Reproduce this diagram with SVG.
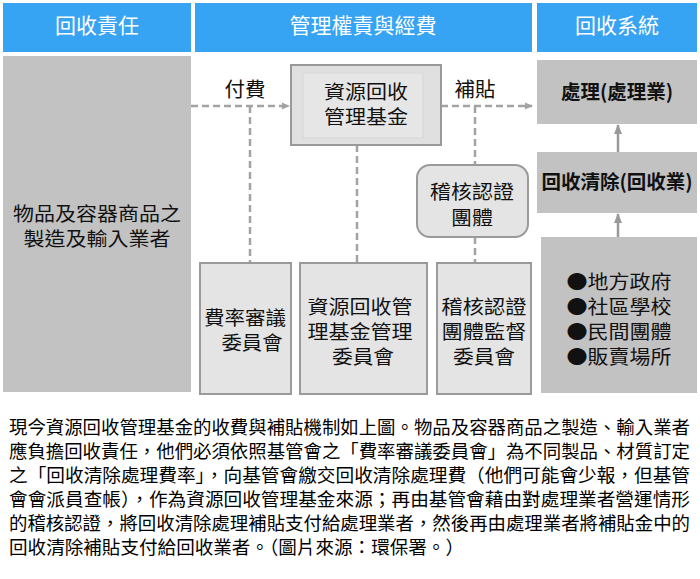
<svg xmlns="http://www.w3.org/2000/svg" width="700" height="579" viewBox="0 0 700 579">
<style>
text{font-family:"Noto Sans CJK TC","Noto Sans CJK SC",sans-serif;}
.hd{fill:#36a3f3;}
.ht{fill:#fff;font-size:21px;text-anchor:middle;}
.dk{fill:#c2c2c2;}
.lt{fill:#e4e4e4;stroke:#9a9a9a;stroke-width:2;}
.t{fill:#111;font-size:19px;text-anchor:middle;}
.t1{fill:#111;font-size:20.5px;text-anchor:middle;}
.tb{fill:#111;font-size:19.5px;text-anchor:middle;font-weight:bold;}
.dash{stroke:#a3a3a3;stroke-width:2.5;stroke-dasharray:7 4;fill:none;}
.solid{stroke:#999;stroke-width:2.5;fill:none;}
.p{fill:#000;font-size:18.4px;}
</style>
<defs>
<marker id="ah" markerWidth="8" markerHeight="8" refX="7" refY="4" orient="auto" markerUnits="userSpaceOnUse">
<path d="M0,0.5 L8,4 L0,7.5 Z" fill="#a3a3a3"/>
</marker>
<marker id="ah2" markerWidth="10" markerHeight="10" refX="9" refY="5" orient="auto" markerUnits="userSpaceOnUse">
<path d="M0,1 L10,5 L0,9 Z" fill="#999"/>
</marker>
</defs>
<rect width="700" height="579" fill="#fff"/>
<g id="headers">
<rect class="hd" x="3" y="3" width="188" height="49"/>
<text class="ht" x="97" y="33">回收責任</text>
<rect class="hd" x="195" y="3" width="337" height="49"/>
<text class="ht" x="363" y="33">管理權責與經費</text>
<rect class="hd" x="537" y="3" width="160" height="49"/>
<text class="ht" x="617" y="33">回收系統</text>
</g>
<g id="connectors">
<line class="dash" x1="191" y1="106" x2="289" y2="106" marker-end="url(#ah)"/>
<line class="dash" x1="250" y1="106" x2="250" y2="262"/>
<line class="dash" x1="357" y1="145" x2="357" y2="262"/>
<line class="dash" x1="441" y1="106" x2="532" y2="106" marker-end="url(#ah)"/>
<line class="dash" x1="475" y1="106" x2="475" y2="165"/>
<line class="dash" x1="475" y1="237" x2="475" y2="262"/>
<line class="solid" x1="618" y1="152" x2="618" y2="125" marker-end="url(#ah2)"/>
<line class="solid" x1="618" y1="237" x2="618" y2="214" marker-end="url(#ah2)"/>
<text class="t1" x="245" y="97">付費</text>
<text class="t1" x="475" y="97">補貼</text>
</g>
<g id="producers">
<rect class="dk" x="3" y="56" width="188" height="336" fill="#c0c0c0"/>
<text class="t" x="97" y="221" textLength="168" lengthAdjust="spacingAndGlyphs">物品及容器商品之</text>
<text class="t" x="97" y="246" textLength="147" lengthAdjust="spacingAndGlyphs">製造及輸入業者</text>
</g>
<g id="fund">
<rect x="291" y="65" width="150" height="80" fill="#e0e0e0" stroke="#999" stroke-width="2"/>
<rect x="303" y="73" width="120" height="65" fill="#e6e6e6" stroke="#d6d6d6" stroke-width="1"/>
<text class="t" x="366" y="99" textLength="84" lengthAdjust="spacingAndGlyphs">資源回收</text>
<text class="t" x="366" y="124" textLength="84" lengthAdjust="spacingAndGlyphs">管理基金</text>
</g>
<g id="audit">
<rect x="417" y="165" width="111" height="72" rx="13" fill="#e4e4e4" stroke="#9a9a9a" stroke-width="2"/>
<text class="t" x="472" y="199" textLength="84" lengthAdjust="spacingAndGlyphs">稽核認證</text>
<text class="t" x="472" y="225" textLength="42" lengthAdjust="spacingAndGlyphs">團體</text>
</g>
<g id="rate-committee">
<rect class="lt" x="200" y="263" width="91" height="131"/>
<text class="t" x="245" y="325" textLength="82" lengthAdjust="spacingAndGlyphs">費率審議</text>
<text class="t" x="252" y="350" textLength="61" lengthAdjust="spacingAndGlyphs">委員會</text>
</g>
<g id="fund-committee">
<rect class="lt" x="300" y="263" width="127" height="131"/>
<text class="t" x="360" y="314" textLength="105" lengthAdjust="spacingAndGlyphs">資源回收管</text>
<text class="t" x="360" y="339" textLength="105" lengthAdjust="spacingAndGlyphs">理基金管理</text>
<text class="t" x="363" y="364" textLength="62" lengthAdjust="spacingAndGlyphs">委員會</text>
</g>
<g id="audit-committee">
<rect class="lt" x="437" y="263" width="94" height="131"/>
<text class="t" x="484" y="314" textLength="85" lengthAdjust="spacingAndGlyphs">稽核認證</text>
<text class="t" x="484" y="339" textLength="85" lengthAdjust="spacingAndGlyphs">團體監督</text>
<text class="t" x="484" y="364" textLength="62" lengthAdjust="spacingAndGlyphs">委員會</text>
</g>
<g id="processing">
<rect class="dk" x="537" y="60" width="160" height="64"/>
<text class="tb" x="617" y="99">處理(處理業)</text>
</g>
<g id="collection">
<rect class="dk" x="537" y="152" width="160" height="61"/>
<text class="tb" x="617" y="189">回收清除(回收業)</text>
</g>
<g id="sources">
<rect class="dk" x="541" y="237" width="156" height="156"/>
<text class="t" x="619" y="289" textLength="105" lengthAdjust="spacingAndGlyphs">●地方政府</text>
<text class="t" x="619" y="314" textLength="105" lengthAdjust="spacingAndGlyphs">●社區學校</text>
<text class="t" x="619" y="339" textLength="105" lengthAdjust="spacingAndGlyphs">●民間團體</text>
<text class="t" x="619" y="364" textLength="105" lengthAdjust="spacingAndGlyphs">●販賣場所</text>
</g>
<g id="paragraph">
<text class="p" x="9" y="434" textLength="681" lengthAdjust="spacingAndGlyphs">現今資源回收管理基金的收費與補貼機制如上圖。物品及容器商品之製造、輸入業者</text>
<text class="p" x="9" y="458" textLength="681" lengthAdjust="spacingAndGlyphs">應負擔回收責任，他們必須依照基管會之「費率審議委員會」為不同製品、材質訂定</text>
<text class="p" x="9" y="482" textLength="681" lengthAdjust="spacingAndGlyphs">之「回收清除處理費率」，向基管會繳交回收清除處理費（他們可能會少報，但基管</text>
<text class="p" x="9" y="506" textLength="681" lengthAdjust="spacingAndGlyphs">會會派員查帳），作為資源回收管理基金來源；再由基管會藉由對處理業者營運情形</text>
<text class="p" x="9" y="530" textLength="681" lengthAdjust="spacingAndGlyphs">的稽核認證，將回收清除處理補貼支付給處理業者，然後再由處理業者將補貼金中的</text>
<text class="p" x="9" y="554" textLength="455" lengthAdjust="spacingAndGlyphs">回收清除補貼支付給回收業者。（圖片來源：環保署。）</text>
</g>
</svg>
